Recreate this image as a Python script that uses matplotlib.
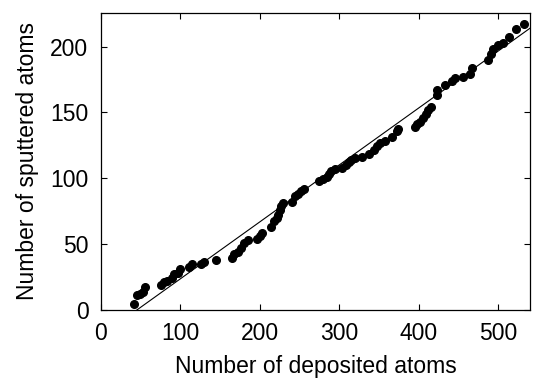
import numpy as np
import matplotlib
matplotlib.use("Agg")
import matplotlib.pyplot as plt

plt.rcParams['font.family'] = ['Liberation Sans', 'DejaVu Sans']

# deposited vs sputtered atoms
deposited = [42, 45, 49, 53, 55, 76, 79, 83, 89, 92, 97, 100, 111, 114, 126, 130,
             145, 165, 168, 172, 176, 180, 185, 197, 200, 203, 214, 218, 221, 223,
             225, 227, 229, 241, 244, 248, 252, 256, 275, 280, 284, 287, 290, 295,
             303, 308, 312, 315, 320, 328, 338, 344, 347, 351, 358, 366, 372, 374,
             395, 398, 401, 405, 409, 412, 416, 423, 423, 433, 442, 446, 456, 465,
             467, 487, 491, 494, 500, 506, 514, 523, 533]
sputtered = [4, 11, 12, 13, 17, 19, 21, 22, 24, 27, 28, 31, 32, 35, 35, 36,
             38, 39, 42, 44, 47, 51, 53, 54, 56, 58, 63, 67, 70, 72,
             76, 79, 81, 82, 86, 88, 90, 92, 98, 99, 101, 103, 105, 107,
             108, 110, 112, 114, 115, 116, 118, 121, 124, 127, 128, 131, 136, 137,
             139, 141, 143, 146, 149, 152, 154, 163, 167, 171, 174, 176, 177, 179,
             184, 190, 194, 198, 201, 203, 207, 213, 217]

# linear fit shown in the figure
slope = 0.433
intercept = -19.9

fig = plt.figure(figsize=(5.34, 3.78), dpi=100)
ax = fig.add_axes([0.189, 0.181, 0.8035, 0.7846])

xfit = np.array([0, 540])
ax.plot(xfit, slope * xfit + intercept, color='black', lw=0.8)
ax.plot(deposited, sputtered, 'o', color='black', ms=5.5, mec='black')

ax.set_xlim(0, 540)
ax.set_ylim(0, 225.5)
ax.set_xticks([0, 100, 200, 300, 400, 500])
ax.set_yticks([0, 50, 100, 150, 200])
ax.tick_params(direction='in', top=True, right=True, length=4, width=0.8,
               labelsize=16.5)
ax.tick_params(axis='x', pad=9)
ax.tick_params(axis='y', pad=9)
for s in ax.spines.values():
    s.set_linewidth(0.9)

ax.set_xlabel('Number of deposited atoms', fontsize=16.5, labelpad=7)
ax.set_ylabel('Number of sputtered atoms', fontsize=16.5, labelpad=8)

fig.savefig('out.png', dpi=100)
